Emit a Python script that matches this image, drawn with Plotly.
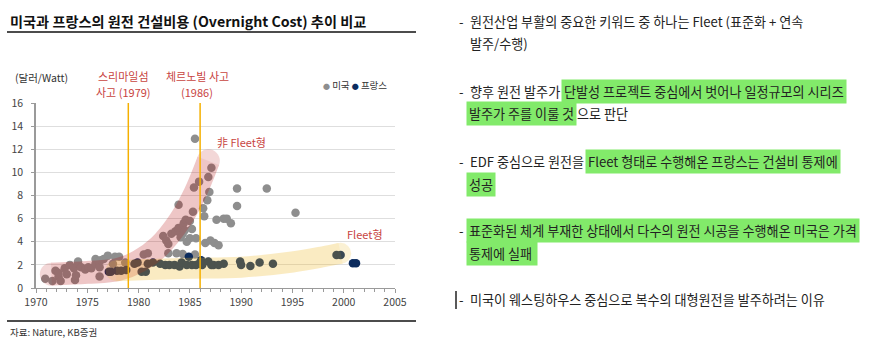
import plotly.graph_objects as go

# ---- data: overnight construction cost (USD/Watt) by year of construction start ----
us_year = [1970.9, 1971.6, 1971.9, 1972.2, 1972.4, 1972.2, 1972.8, 1973.0, 1973.3, 1973.7,
           1973.8, 1973.9, 1974.1, 1974.1, 1974.4, 1974.8, 1975.1, 1975.4, 1975.8, 1975.8,
           1976.2, 1976.2, 1976.3, 1976.6, 1977.0, 1977.7, 1978.1, 1977.5, 1978.7, 1980.5,
           1980.9,
           1982.4, 1982.7, 1982.9, 1983.2, 1983.6, 1983.9, 1983.9, 1984.1, 1984.3, 1984.4,
           1984.5, 1984.6, 1985.0, 1985.2, 1985.3, 1985.4, 1985.5, 1985.9, 1986.3, 1986.4,
           1986.7, 1986.8, 1986.9, 1987.1,
           1982.9, 1983.7, 1984.3, 1985.5, 1984.7, 1985.0, 1985.6, 1986.5, 1987.0, 1987.4,
           1987.8,
           1987.6, 1988.3, 1988.6, 1989.0, 1989.6, 1989.6, 1992.5, 1995.3]
us_cost = [0.8, 0.6, 1.5, 1.0, 0.6, 1.3, 1.7, 1.2, 2.0, 1.7,
           0.7, 1.1, 2.1, 2.3, 1.8, 1.6, 1.8, 1.7, 2.1, 2.5,
           1.0, 1.8, 2.4, 2.5, 2.8, 2.7, 2.7, 2.1, 2.2, 2.9,
           3.0,
           4.5, 4.1, 3.8, 4.7, 4.9, 7.2, 5.2, 4.4, 4.7, 5.6,
           5.0, 5.9, 5.8, 5.1, 6.6, 8.7, 12.9, 9.2, 6.9, 6.2,
           7.6, 9.6, 8.3, 10.4,
           3.0, 3.0, 2.95, 2.9, 4.0, 4.3, 4.3, 3.9, 4.1, 3.9,
           3.7,
           5.9, 6.0, 6.0, 5.6, 8.6, 7.1, 8.6, 6.5]

fr_year = [1977.1, 1977.3, 1977.9, 1978.3, 1978.8, 1979.6, 1979.9, 1980.3, 1980.7, 1980.9,
           1981.4, 1982.1, 1982.6, 1983.0, 1983.5, 1984.0, 1984.2, 1984.7, 1984.9, 1985.2,
           1985.6, 1986.0, 1986.1, 1986.2, 1986.8, 1987.1, 1987.3, 1987.8, 1988.3, 1989.9,
           1990.0, 1990.9, 1991.8, 1993.1, 1999.3, 1999.7, 2000.9, 2001.2]
fr_cost = [1.4, 1.4, 1.5, 1.5, 1.55, 2.1, 2.2, 1.4, 1.4, 2.1,
           2.2, 2.1, 2.0, 2.0, 2.0, 1.85, 2.2, 2.0, 2.7, 2.0,
           2.0, 2.2, 2.4, 2.0, 2.3, 2.0, 2.0, 2.0, 2.1, 2.3,
           2.0, 1.9, 2.2, 2.1, 2.85, 2.85, 2.15, 2.15]

x_ticks = [1970, 1975, 1980, 1985, 1990, 1995, 2000, 2005]
y_ticks = [0, 2, 4, 6, 8, 10, 12, 14, 16]
event_years = [1979, 1986]

# trend bands drawn over the scatter
band_nonfleet_x = [1971.5, 1975, 1978, 1980, 1982, 1984, 1985.5, 1986.8]
band_nonfleet_y = [1.2, 1.35, 1.6, 2.3, 3.6, 5.8, 8.2, 11.0]
band_fleet_x = [1977.8, 1981, 1985, 1990, 1995, 1998, 1999.7]
band_fleet_y = [1.5, 1.6, 1.7, 1.8, 2.25, 2.7, 3.0]

FONT = "Noto Sans CJK KR"
RED = "#c8443f"
US_COLOR = "#8e8e8e"
FR_COLOR = "#0c2c5e"
HILITE = "#82ea6a"

# plot-area pixel box inside the 871x348 page
L, R, T, B = 36, 395, 103, 288
W_PAGE, H_PAGE = 871, 348


def px_x(p):
    return (p - L) / (R - L)


def px_y(p):
    return (B - p) / (B - T)


fig = go.Figure()

fig.add_trace(go.Scatter(x=us_year, y=us_cost, mode="markers", name="미국",
                         marker=dict(size=8.5, color=US_COLOR, line=dict(width=0)),
                         showlegend=False, hoverinfo="skip"))
fig.add_trace(go.Scatter(x=fr_year, y=fr_cost, mode="markers", name="프랑스",
                         marker=dict(size=8.5, color=FR_COLOR, line=dict(width=0)),
                         showlegend=False, hoverinfo="skip"))


def band(xs, ys, color, width, opacity):
    sizes = [width] + [0] * (len(xs) - 2) + [width]
    return go.Scatter(x=xs, y=ys, mode="lines+markers",
                      line=dict(color=color, width=width, shape="spline", smoothing=1.0),
                      marker=dict(size=sizes, color=color, line=dict(width=0)),
                      opacity=opacity, showlegend=False, hoverinfo="skip")


fig.add_trace(band(band_nonfleet_x, band_nonfleet_y, "rgb(180,0,0)", 23, 0.22))
fig.add_trace(band(band_fleet_x, band_fleet_y, "rgb(240,185,40)", 21, 0.28))

shapes = []
for yr in event_years:
    shapes.append(dict(type="line", xref="x", yref="y", x0=yr, x1=yr, y0=0, y1=16,
                       line=dict(color="#f5b000", width=1.5), layer="above"))
# rules under the title and above the source line
for yy in (32, 321):
    shapes.append(dict(type="line", xref="paper", yref="paper",
                       x0=px_x(7), x1=px_x(416), y0=px_y(yy), y1=px_y(yy),
                       line=dict(color="#111", width=1.5)))
# cursor-like bar before the last bullet
shapes.append(dict(type="line", xref="paper", yref="paper",
                   x0=px_x(456), x1=px_x(456), y0=px_y(291), y1=px_y(309),
                   line=dict(color="#222", width=1.5)))

ann = []


def text(x, y, s, size=11, color="#333", anchor="left", bg=None, pad=1):
    d = dict(xref="paper", yref="paper", x=px_x(x), y=px_y(y), text=s, showarrow=False,
             xanchor=anchor, yanchor="middle", font=dict(family=FONT, size=size, color=color))
    if bg:
        d.update(bgcolor=bg, borderpad=pad)
    ann.append(d)


text(8, 21, "<b>미국과 프랑스의 원전 건설비용 (Overnight Cost) 추이 비교</b>", size=14.2, color="#111")
text(13, 77, "(달러/Watt)", size=10.5, color="#333")
text(123, 76, "스리마일섬", size=11, color=RED, anchor="center")
text(123, 92, "사고 (1979)", size=11, color=RED, anchor="center")
text(197, 76, "체르노빌 사고", size=11, color=RED, anchor="center")
text(197, 92, "(1986)", size=11, color=RED, anchor="center")
text(241, 142, "非 Fleet형", size=11, color=RED, anchor="center")
text(365, 234, "Fleet형", size=11, color=RED, anchor="center")
text(321, 85, f'<span style="color:{US_COLOR};font-size:7px">●</span> 미국 '
              f'<span style="color:{FR_COLOR};font-size:7px">●</span> 프랑스', size=9.5, color="#333")
text(8, 332, "자료: Nature, KB증권", size=9.5, color="#333")

# commentary on the right
TS = 13.1
TC = "#222"
for yy in (21, 92, 161, 230, 299):
    text(457, yy, "-", size=TS, color=TC)
text(468, 21, "원전산업 부활의 중요한 키워드 중 하나는 Fleet (표준화 + 연속", size=TS, color=TC)
text(468, 44, "발주/수행)", size=TS, color=TC)
text(468, 92, "향후 원전 발주가", size=TS, color=TC)
text(561, 92, "단발성 프로젝트 중심에서 벗어나 일정규모의 시리즈", size=TS, color=TC, bg=HILITE, pad=2)
text(466, 113, "발주가 주를 이룰 것", size=TS, color=TC, bg=HILITE, pad=2)
text(575, 113, "으로 판단", size=TS, color=TC)
text(468, 161, "EDF 중심으로 원전을", size=TS, color=TC)
text(585, 161, "Fleet 형태로 수행해온 프랑스는 건설비 통제에", size=TS, color=TC, bg=HILITE, pad=2)
text(466, 184, "성공", size=TS, color=TC, bg=HILITE, pad=2)
text(466, 230, "표준화된 체계 부재한 상태에서 다수의 원전 시공을 수행해온 미국은 가격",
     size=TS, color=TC, bg=HILITE, pad=2)
text(466, 253, "통제에 실패 ", size=TS, color=TC, bg=HILITE, pad=2)
text(468, 299, "미국이 웨스팅하우스 중심으로 복수의 대형원전을 발주하려는 이유", size=TS, color=TC)

fig.update_layout(
    width=W_PAGE, height=H_PAGE,
    margin=dict(l=L, r=W_PAGE - R, t=T, b=H_PAGE - B),
    paper_bgcolor="white", plot_bgcolor="white",
    font=dict(family=FONT, size=10.5, color="#444"),
    shapes=shapes, annotations=ann, showlegend=False,
    xaxis=dict(range=[1970, 2005], tickvals=x_ticks, showgrid=False, zeroline=False,
               showline=True, linecolor="#9a9a9a", linewidth=1,
               ticks="outside", ticklen=4, tickcolor="#9a9a9a",
               minor=dict(dtick=1, ticks="outside", ticklen=3, tickcolor="#9a9a9a"),
               tickfont=dict(size=10.5, color="#444")),
    yaxis=dict(range=[0, 16], tickvals=y_ticks, showgrid=True, gridcolor="#dedede",
               zeroline=False, showline=True, linecolor="#9a9a9a", linewidth=1.5,
               ticks="outside", ticklen=3, tickcolor="#9a9a9a", ticklabelstandoff=6,
               tickfont=dict(size=10.5, color="#444")),
)

fig.write_html("out.html")
